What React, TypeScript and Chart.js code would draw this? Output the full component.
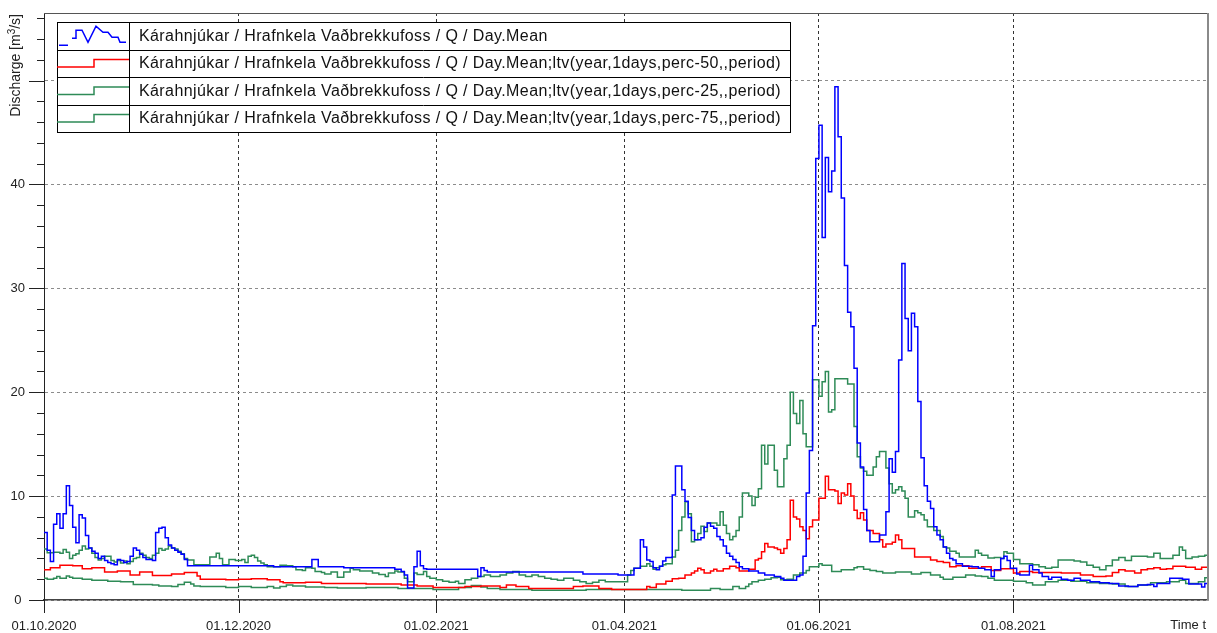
import React, { useEffect, useRef } from "react";
import { Chart, registerables } from "chart.js";

Chart.register(...registerables);

// ---- axis definitions (x = days since 01.10.2020) ----
const xTickDays = [0, 61, 123, 182, 243, 304];
const xTickLabels = ["01.10.2020", "01.12.2020", "01.02.2021", "01.04.2021", "01.06.2021", "01.08.2021"];
const yTickValues = [0, 10, 20, 30, 40, 50];

const seriesLabels = [
  "Kárahnjúkar / Hrafnkela Vaðbrekkufoss / Q / Day.Mean",
  "Kárahnjúkar / Hrafnkela Vaðbrekkufoss / Q / Day.Mean;ltv(year,1days,perc-50,,period)",
  "Kárahnjúkar / Hrafnkela Vaðbrekkufoss / Q / Day.Mean;ltv(year,1days,perc-25,,period)",
  "Kárahnjúkar / Hrafnkela Vaðbrekkufoss / Q / Day.Mean;ltv(year,1days,perc-75,,period)",
];

// ---- step data: [day, discharge m3/s] (value holds until next day listed) ----
const dayMean: [number, number][] = [
  [0, 6.5], [1, 4.8], [2, 3.7], [3, 7.3], [4, 8.3], [5, 6.9], [6, 8.3], [7, 11.0], [8, 9.1], [9, 7.0],
  [10, 5.5], [11, 8.2], [12, 7.9], [13, 6.2], [14, 5.0], [15, 4.7], [16, 4.5], [17, 4.0], [18, 4.2], [19, 3.8],
  [20, 3.6], [21, 3.5], [22, 3.4], [23, 3.9], [24, 3.8], [25, 3.6], [26, 3.7], [27, 4.2], [28, 5.0], [29, 4.8],
  [30, 4.4], [31, 4.1], [32, 3.9], [34, 3.8], [35, 6.5], [36, 6.9], [37, 7.0], [38, 6.0], [39, 5.3], [40, 5.0],
  [41, 4.8], [42, 4.6], [43, 4.4], [44, 3.9], [45, 3.3], [72, 3.2], [84, 3.9], [86, 3.2], [94, 3.1], [110, 2.95],
  [112, 2.75], [113, 2.4], [114, 1.15], [116, 3.2], [117, 4.7], [118, 3.3], [119, 3.0], [120, 2.95], [136, 2.25], [137, 3.1],
  [138, 2.85], [139, 2.7], [169, 2.5], [180, 2.4], [185, 3.05], [187, 5.8], [188, 5.1], [189, 3.85], [190, 3.7], [191, 3.1],
  [192, 2.9], [193, 3.25], [194, 3.75], [195, 4.1], [197, 10.1], [198, 12.9], [200, 10.6], [201, 9.5], [202, 7.95], [203, 6.7],
  [204, 5.8], [206, 6.0], [207, 7.0], [208, 7.4], [209, 7.1], [210, 6.9], [211, 6.1], [212, 5.8], [213, 5.2], [214, 4.5],
  [215, 4.2], [216, 3.9], [217, 3.6], [218, 3.2], [219, 3.0], [221, 2.8], [224, 2.6], [226, 2.4], [229, 2.25], [231, 2.1],
  [232, 1.9], [236, 2.25], [237, 2.4], [238, 4.2], [239, 10.3], [240, 14.4], [241, 26.4], [242, 42.5], [243, 45.7], [244, 34.9],
  [245, 42.6], [246, 39.3], [247, 41.3], [248, 49.4], [249, 44.6], [250, 38.7], [251, 32.2], [252, 27.7], [253, 26.3], [254, 22.3],
  [255, 15.1], [256, 12.8], [257, 8.7], [258, 6.7], [259, 5.6], [262, 6.25], [264, 8.5], [265, 13.6], [266, 12.3], [267, 14.3],
  [268, 23.1], [269, 32.4], [270, 27.1], [271, 24.0], [272, 27.6], [273, 26.3], [274, 19.1], [275, 13.7], [276, 11.0], [277, 9.5],
  [278, 8.8], [279, 7.05], [280, 6.25], [281, 5.8], [282, 5.1], [283, 4.5], [284, 4.0], [285, 3.85], [286, 3.5], [288, 3.25],
  [291, 3.2], [293, 3.05], [295, 2.9], [297, 2.25], [298, 2.9], [300, 4.0], [301, 4.2], [302, 3.8], [303, 3.05], [305, 2.5],
  [306, 2.4], [309, 3.35], [310, 2.9], [312, 2.6], [313, 2.25], [315, 2.0], [316, 2.2], [319, 2.0], [321, 1.9], [323, 2.1],
  [325, 1.9], [328, 1.75], [331, 1.65], [334, 1.6], [337, 1.35], [340, 1.3], [343, 1.45], [346, 1.5], [348, 1.3], [349, 1.6],
  [351, 1.6], [353, 2.1], [357, 2.0], [359, 1.55], [363, 1.25], [364, 1.6], [365, 1.6],
];

const perc50: [number, number][] = [
  [0, 2.9], [2, 3.1], [5, 3.35], [9, 3.3], [12, 3.0], [15, 3.1], [19, 2.7], [23, 2.8], [27, 2.4], [30, 2.7],
  [34, 2.35], [40, 2.5], [44, 2.65], [48, 2.3], [49, 2.0], [57, 1.95], [61, 2.0], [65, 2.05], [70, 1.95], [74, 1.75],
  [75, 1.65], [82, 1.7], [87, 1.6], [101, 1.55], [112, 1.45], [117, 1.35], [122, 1.2], [132, 1.3], [137, 1.35], [143, 1.2],
  [145, 1.45], [148, 1.3], [152, 1.1], [166, 1.3], [169, 1.35], [174, 1.1], [178, 1.0], [189, 1.3], [190, 1.2], [192, 1.55],
  [195, 1.8], [197, 2.05], [199, 2.1], [201, 2.4], [203, 2.6], [204, 2.8], [205, 3.05], [206, 2.9], [207, 2.6], [209, 2.8],
  [210, 2.95], [211, 2.8], [213, 3.0], [215, 3.25], [217, 3.1], [218, 2.8], [221, 2.95], [223, 3.85], [224, 4.0], [225, 4.65],
  [226, 5.45], [227, 5.1], [229, 5.0], [230, 4.85], [231, 4.5], [232, 4.95], [233, 5.8], [234, 9.6], [235, 8.0], [236, 7.8],
  [237, 7.05], [238, 6.7], [239, 5.9], [240, 7.05], [241, 7.7], [243, 9.8], [245, 11.9], [246, 10.6], [248, 10.5], [249, 9.3],
  [250, 10.3], [251, 10.1], [252, 11.2], [253, 10.0], [254, 8.65], [255, 7.85], [256, 8.4], [257, 7.7], [258, 6.7], [260, 6.4],
  [262, 5.8], [263, 5.1], [264, 5.4], [266, 5.55], [267, 6.25], [268, 5.8], [269, 4.95], [273, 4.15], [278, 3.85], [280, 3.7],
  [282, 3.6], [284, 3.2], [286, 3.3], [290, 3.05], [294, 3.2], [297, 2.85], [300, 3.0], [304, 2.6], [306, 2.75], [310, 2.65],
  [319, 2.6], [325, 2.4], [329, 2.25], [333, 2.3], [335, 2.65], [337, 2.9], [339, 2.8], [342, 2.6], [344, 2.9], [346, 3.0],
  [348, 3.1], [350, 2.95], [352, 3.0], [354, 3.25], [358, 3.15], [361, 2.95], [363, 3.15], [365, 3.15],
];

const perc25: [number, number][] = [
  [0, 2.1], [1, 2.0], [3, 2.1], [4, 2.25], [5, 2.1], [7, 2.3], [8, 2.2], [9, 2.1], [12, 2.0], [15, 1.9],
  [20, 1.8], [24, 1.75], [28, 1.5], [34, 1.45], [36, 1.35], [40, 1.3], [42, 1.5], [44, 1.7], [46, 1.55], [47, 1.35],
  [49, 1.3], [57, 1.2], [61, 1.3], [65, 1.2], [70, 1.3], [72, 1.15], [74, 1.3], [76, 1.45], [78, 1.35], [82, 1.25],
  [88, 1.2], [92, 1.15], [101, 1.2], [111, 1.1], [122, 1.0], [130, 1.2], [134, 1.4], [137, 1.25], [139, 1.1], [143, 1.0],
  [153, 0.95], [170, 1.0], [200, 0.95], [209, 1.1], [212, 1.0], [216, 1.3], [218, 1.1], [220, 1.3], [221, 1.55], [222, 1.75],
  [224, 1.9], [226, 2.0], [228, 2.15], [230, 2.2], [231, 1.95], [233, 2.0], [235, 2.4], [237, 2.6], [239, 2.85], [240, 3.2],
  [243, 3.5], [244, 3.35], [247, 2.75], [250, 2.9], [254, 3.1], [255, 3.2], [257, 2.95], [259, 2.85], [261, 2.75], [263, 2.6],
  [267, 2.7], [272, 2.5], [275, 2.65], [278, 2.4], [281, 2.2], [282, 2.0], [285, 2.2], [289, 2.4], [292, 2.3], [294, 2.25],
  [296, 2.1], [298, 1.9], [304, 1.8], [308, 1.65], [310, 1.45], [314, 1.75], [318, 1.9], [322, 1.8], [327, 1.65], [331, 1.6],
  [335, 1.55], [339, 1.3], [343, 1.45], [347, 1.65], [352, 1.75], [356, 1.9], [358, 1.6], [362, 1.75], [364, 2.15], [365, 2.15],
];

const perc75: [number, number][] = [
  [0, 4.9], [1, 4.55], [3, 4.6], [5, 4.5], [6, 4.85], [7, 4.6], [8, 4.0], [9, 4.3], [10, 4.45], [11, 4.8],
  [12, 5.2], [13, 4.9], [14, 5.0], [15, 4.5], [16, 4.1], [17, 3.85], [18, 4.0], [19, 4.2], [21, 3.8], [22, 3.65],
  [23, 3.8], [24, 3.55], [25, 3.75], [26, 3.5], [27, 3.7], [28, 4.0], [29, 4.1], [30, 4.5], [31, 4.3], [32, 4.1],
  [33, 4.0], [34, 4.3], [35, 4.5], [36, 4.95], [37, 4.8], [38, 4.9], [39, 5.2], [40, 5.0], [41, 4.9], [42, 4.7],
  [43, 4.45], [44, 4.0], [45, 3.85], [47, 3.4], [52, 4.15], [54, 4.5], [55, 4.0], [56, 3.4], [58, 3.9], [60, 3.8],
  [62, 3.9], [63, 3.6], [64, 4.2], [65, 4.3], [66, 4.1], [67, 3.75], [68, 3.55], [69, 3.4], [70, 3.2], [74, 3.35],
  [76, 3.3], [78, 3.2], [79, 2.9], [81, 2.85], [82, 3.1], [84, 3.05], [85, 2.75], [87, 2.65], [88, 2.5], [90, 2.7],
  [92, 2.2], [94, 2.7], [96, 3.05], [97, 2.9], [99, 2.8], [103, 2.6], [105, 2.45], [107, 2.25], [108, 2.6], [110, 2.8],
  [111, 2.7], [113, 2.1], [114, 1.75], [116, 2.6], [117, 2.45], [119, 2.75], [120, 2.25], [121, 2.1], [123, 1.95], [125, 1.8],
  [127, 1.7], [129, 1.8], [130, 1.6], [132, 1.95], [134, 2.1], [136, 2.25], [138, 2.4], [140, 2.25], [143, 2.4], [145, 2.6],
  [147, 2.75], [149, 2.4], [151, 2.25], [153, 2.4], [155, 2.25], [157, 2.1], [159, 2.0], [161, 1.9], [163, 2.1], [166, 1.9],
  [168, 1.75], [170, 1.6], [172, 1.7], [174, 1.9], [176, 1.75], [183, 2.4], [184, 2.85], [185, 3.05], [187, 3.25], [189, 3.5],
  [190, 3.25], [191, 2.95], [192, 3.1], [193, 3.25], [194, 3.4], [195, 3.5], [197, 4.15], [198, 4.8], [199, 6.7], [200, 8.0],
  [201, 9.45], [202, 8.3], [203, 5.6], [204, 5.8], [205, 6.4], [206, 7.1], [207, 6.6], [208, 7.4], [211, 7.2], [212, 8.5],
  [213, 7.2], [214, 6.4], [215, 5.8], [216, 6.1], [217, 6.7], [218, 8.0], [219, 10.3], [221, 10.0], [222, 9.1], [223, 9.9],
  [224, 10.7], [225, 14.9], [226, 13.1], [227, 14.9], [229, 12.5], [230, 10.9], [232, 13.6], [233, 14.9], [234, 20.0], [235, 17.95],
  [236, 17.0], [237, 19.2], [238, 16.0], [239, 14.75], [241, 21.2], [243, 19.6], [244, 21.0], [245, 22.0], [246, 18.1], [247, 18.3],
  [248, 21.3], [252, 20.8], [254, 16.7], [255, 13.8], [256, 12.7], [257, 12.4], [258, 12.0], [260, 12.8], [261, 13.8], [262, 14.3],
  [264, 12.7], [265, 11.2], [266, 10.3], [267, 10.6], [268, 10.9], [269, 10.5], [270, 9.8], [271, 8.0], [273, 8.6], [274, 8.4],
  [275, 8.2], [276, 7.7], [277, 7.05], [279, 6.7], [281, 6.1], [282, 5.1], [283, 5.0], [284, 4.7], [286, 4.5], [287, 4.15],
  [292, 4.8], [293, 4.5], [294, 4.3], [296, 4.05], [298, 4.1], [300, 4.0], [301, 4.65], [302, 4.5], [304, 3.9], [306, 3.5],
  [310, 3.4], [312, 3.2], [314, 3.05], [316, 3.15], [318, 3.85], [323, 3.75], [325, 3.65], [327, 3.35], [329, 3.15], [331, 2.9],
  [333, 3.3], [335, 3.85], [337, 4.1], [339, 3.8], [341, 4.2], [346, 4.15], [348, 4.5], [350, 4.0], [354, 4.3], [356, 5.1],
  [357, 4.8], [358, 4.0], [360, 4.15], [362, 4.2], [364, 4.3], [365, 4.3],
];

const seriesColors = ["#0000ff", "#ff0000", "#2e8b57", "#2e8b57"];

const FONT = "'Liberation Sans', Arial, sans-serif";

const toPoints = (arr: [number, number][]) => arr.map(([x, y]) => ({ x, y }));

const noScalePadding = (s: any) => {
  s.paddingLeft = 0;
  s.paddingRight = 0;
  s.paddingTop = 0;
  s.paddingBottom = 0;
};

const decorPlugin = {
  id: "decor",
  afterDraw(chart: any) {
    const { ctx, chartArea: a, scales } = chart;
    const xs = scales.x;
    const ys = scales.y;
    const line = (x1: number, y1: number, x2: number, y2: number) => {
      ctx.beginPath();
      ctx.moveTo(x1, y1);
      ctx.lineTo(x2, y2);
      ctx.stroke();
    };
    ctx.save();
    ctx.setLineDash([]);
    // frame top / right
    ctx.strokeStyle = "#555";
    ctx.lineWidth = 1;
    line(a.left, a.top + 0.5, a.right, a.top + 0.5);
    ctx.strokeStyle = "#8a8a8a";
    ctx.lineWidth = 2;
    line(a.right, a.top, a.right, a.bottom);
    // y tick marks (minor every 2)
    ctx.strokeStyle = "#222";
    ctx.lineWidth = 1;
    for (let v = 0; v <= 56; v += 2) {
      const py = Math.round(ys.getPixelForValue(v)) + 0.5;
      const len = v % 10 === 0 ? 15 : 7;
      line(a.left - len, py, a.left, py);
    }
    // x tick marks
    xTickDays.forEach((d) => {
      const px = Math.round(xs.getPixelForValue(d)) + 0.5;
      line(px, a.bottom, px, a.bottom + 13);
    });
    // "Time t"
    ctx.fillStyle = "#222";
    ctx.font = `13px ${FONT}`;
    ctx.textAlign = "right";
    ctx.textBaseline = "middle";
    ctx.fillText("Time t", 1206, 625);

    // y title, rotated
    ctx.save();
    ctx.translate(16, 14);
    ctx.rotate(-Math.PI / 2);
    const tSize = 14;
    ctx.font = `${tSize}px ${FONT}`;
    const p1 = "Discharge [m";
    const p3 = "/s]";
    const w1 = ctx.measureText(p1).width;
    const w3 = ctx.measureText(p3).width;
    ctx.font = `${Math.round(tSize * 0.7)}px ${FONT}`;
    const w2 = ctx.measureText("3").width;
    const total = w1 + w2 + w3;
    ctx.textAlign = "left";
    ctx.textBaseline = "middle";
    ctx.fillStyle = "#222";
    ctx.font = `${tSize}px ${FONT}`;
    ctx.fillText(p1, -total, 0);
    ctx.font = `${Math.round(tSize * 0.7)}px ${FONT}`;
    ctx.fillText("3", -total + w1, -4);
    ctx.font = `${tSize}px ${FONT}`;
    ctx.fillText(p3, -total + w1 + w2, 0);
    ctx.restore();

    // legend box
    const L = 57, T = 22, R = 790, B = 132, D = 129;
    const rowH = (B - T) / 4;
    ctx.fillStyle = "#fff";
    ctx.fillRect(L, T, R - L, B - T);
    ctx.strokeStyle = "#000";
    ctx.lineWidth = 1;
    ctx.strokeRect(L + 0.5, T + 0.5, R - L, B - T);
    for (let i = 1; i < 4; i++) {
      const yy = Math.round(T + rowH * i) + 0.5;
      line(L, yy, R, yy);
    }
    line(D + 0.5, T, D + 0.5, B);
    // legend text: 16px, letter spacing so the longest entry spans ~642px
    const fs = 16;
    ctx.font = `${fs}px ${FONT}`;
    const longestLabel = chart.data.datasets.reduce(
      (m: string, d: any) => (d.label.length > m.length ? d.label : m), "");
    const lw = ctx.measureText(longestLabel).width;
    const spacing = Math.max(0, Math.min(1, (642 - lw) / longestLabel.length));
    ctx.letterSpacing = `${spacing}px`;
    ctx.fillStyle = "#111";
    ctx.textAlign = "left";
    ctx.textBaseline = "middle";
    chart.data.datasets.forEach((ds: any, i: number) => {
      const mid = T + rowH * (i + 0.5);
      ctx.fillText(ds.label, 139, mid + 0.5);
      ctx.strokeStyle = ds.borderColor;
      ctx.lineWidth = 1.5;
      if (i === 0) {
        const o = mid - 35.5;
        line(59, 45 + o, 68, 45 + o);
        const pts = [[72, 38], [76, 38], [76, 30], [82, 30], [88, 42], [96, 26], [103, 32], [108, 32], [112, 37], [118, 37], [120, 42], [126, 42]];
        ctx.beginPath();
        pts.forEach(([px, py], k) => (k === 0 ? ctx.moveTo(px, py + o) : ctx.lineTo(px, py + o)));
        ctx.stroke();
      } else {
        ctx.beginPath();
        ctx.moveTo(L, mid + 3.7);
        ctx.lineTo(94, mid + 3.7);
        ctx.lineTo(94, mid - 3.7);
        ctx.lineTo(D, mid - 3.7);
        ctx.stroke();
      }
    });
    ctx.letterSpacing = "0px";
    ctx.restore();
  },
};

export default function App() {
  const ref = useRef<HTMLCanvasElement>(null);
  useEffect(() => {
    document.body.style.margin = "0";
    const dataSets = [dayMean, perc50, perc25, perc75];
    const chart = new Chart(ref.current as HTMLCanvasElement, {
      type: "line",
      data: {
        datasets: dataSets.map((arr, i) => ({
          label: seriesLabels[i],
          data: toPoints(arr),
          borderColor: seriesColors[i],
          backgroundColor: seriesColors[i],
          borderWidth: 1.5,
          stepped: "before" as const,
          pointRadius: 0,
          fill: false,
          tension: 0,
        })),
      },
      options: {
        animation: false,
        responsive: false,
        events: [],
        layout: { autoPadding: false, padding: { top: 13, right: 9, left: 0, bottom: 0 } },
        plugins: { legend: { display: false }, tooltip: { enabled: false } },
        scales: {
          x: {
            type: "linear",
            min: 0,
            max: 365,
            afterBuildTicks: (s: any) => {
              s.ticks = xTickDays.map((v) => ({ value: v }));
            },
            afterFit: (s: any) => {
              s.height = 33;
              noScalePadding(s);
            },
            grid: { color: "#333", lineWidth: 1, drawTicks: false },
            border: { color: "#444", width: 1.5, dash: [3, 3] },
            ticks: {
              callback: (_v: any, i: number) => xTickLabels[i],
              padding: 19,
              maxRotation: 0,
              autoSkip: false,
              color: "#222",
              font: { size: 13, family: FONT },
            },
          },
          y: {
            type: "linear",
            min: 0,
            max: 56.5,
            afterBuildTicks: (s: any) => {
              s.ticks = yTickValues.map((v) => ({ value: v }));
            },
            afterFit: (s: any) => {
              s.width = 44;
              noScalePadding(s);
            },
            grid: { color: "#8c8c8c", lineWidth: 1, drawTicks: false },
            border: { color: "#222", width: 1, dash: [3, 3] },
            ticks: {
              callback: (v: any) => (v === 50 ? "" : String(v)),
              padding: 19,
              crossAlign: "center",
              color: "#222",
              font: { size: 13, family: FONT },
            },
          },
        },
      },
      plugins: [decorPlugin],
    } as any);
    return () => chart.destroy();
  }, []);
  return (
    <div style={{ width: 1217, height: 633, background: "#fff" }}>
      <canvas ref={ref} width={1217} height={633} style={{ display: "block" }} />
    </div>
  );
}
